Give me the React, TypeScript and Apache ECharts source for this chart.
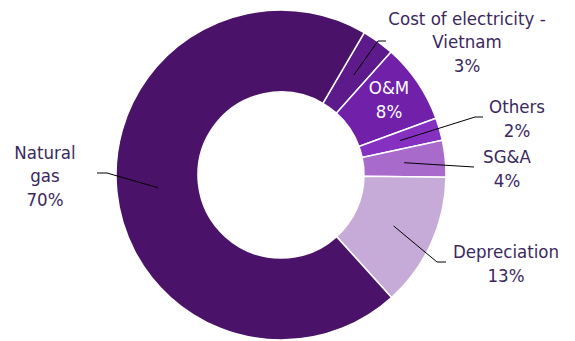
import React, { useEffect, useRef } from "react";
import * as echarts from "echarts";

const categories = [
  "Cost of electricity -\nVietnam",
  "O&M",
  "Others",
  "SG&A",
  "Depreciation",
  "Natural\ngas",
];
const values = [3.2, 7.8, 2.2, 3.6, 13.1, 70.1];
const colors = ["#5C1A8A", "#7020A9", "#8530C0", "#A86ACB", "#C6AAD8", "#4A1268"];

// layout of the annotations
const CENTER = [281, 175];
const R_IN = 83;
const R_OUT = 165;
const START_ANGLE = 59.7; // echarts degrees, ccw from 3 o'clock
const labelCenters: number[][] = [
  [467, 41.5],
  [389, 99.5],
  [517, 118.5],
  [507, 168.5],
  [506, 263.5],
  [45, 175.5],
];
const lineEnds: (number[][] | null)[] = [
  [[378, 41], [386, 41]],
  null,
  [[475, 117], [483, 117]],
  [[466, 166.5], [474, 167]],
  [[437, 262], [446, 262]],
  [[107, 173], [97, 173]],
];

const FONT = "'DejaVu Sans Condensed', 'DejaVu Sans', sans-serif";
const TEXT_COLOR = "#3A285E";

export default function App() {
  const ref = useRef<HTMLDivElement>(null);
  useEffect(() => {
    if (!ref.current) return;
    const chart = echarts.init(ref.current, null, { renderer: "svg" });
    const total = values.reduce((a, b) => a + b, 0);
    // mid angles, clockwise from 12 o'clock, degrees
    const mids: number[] = [];
    let acc = 90 - START_ANGLE;
    values.forEach((v) => {
      const span = (v / total) * 360;
      mids.push(acc + span / 2);
      acc += span;
    });
    const startPoint = (i: number) => {
      const a = (mids[i] * Math.PI) / 180;
      const r = R_OUT * 0.75;
      return [CENTER[0] + r * Math.sin(a), CENTER[1] - r * Math.cos(a)];
    };
    const leaderLines = lineEnds
      .map((e, i) =>
        e
          ? {
              type: "polyline",
              silent: true,
              z: 100,
              shape: { points: [startPoint(i), ...e] },
              style: { stroke: "#000000", lineWidth: 1, fill: null },
            }
          : null
      )
      .filter(Boolean);
    chart.setOption({
      animation: false,
      graphic: { elements: leaderLines },
      series: [
        {
          type: "pie",
          center: CENTER,
          radius: [R_IN, R_OUT],
          startAngle: START_ANGLE,
          clockwise: true,
          percentPrecision: 0,
          itemStyle: { borderColor: "#ffffff", borderWidth: 1.5 },
          label: {
            show: true,
            position: "inside",
            overflow: "none",
            formatter: "{b}\n{d}%",
            color: TEXT_COLOR,
            fontFamily: FONT,
            fontSize: 18.5,
            lineHeight: 23.5,
            align: "center",
          },
          labelLine: { show: false },
          emphasis: { disabled: true },
          labelLayout: (params: any) => {
            const c = labelCenters[params.dataIndex];
            return { x: c[0], y: c[1], align: "center", verticalAlign: "middle" };
          },
          data: categories.map((name, i) => {
            const item: any = {
              name,
              value: values[i],
              itemStyle: { color: colors[i] },
            };
            if (i === 1) item.label = { color: "#ffffff" };
            return item;
          }),
        },
      ],
    });
    return () => chart.dispose();
  }, []);
  return (
    <div
      ref={ref}
      style={{ position: "fixed", left: 0, top: 0, width: 575, height: 341, background: "#fff" }}
    />
  );
}
